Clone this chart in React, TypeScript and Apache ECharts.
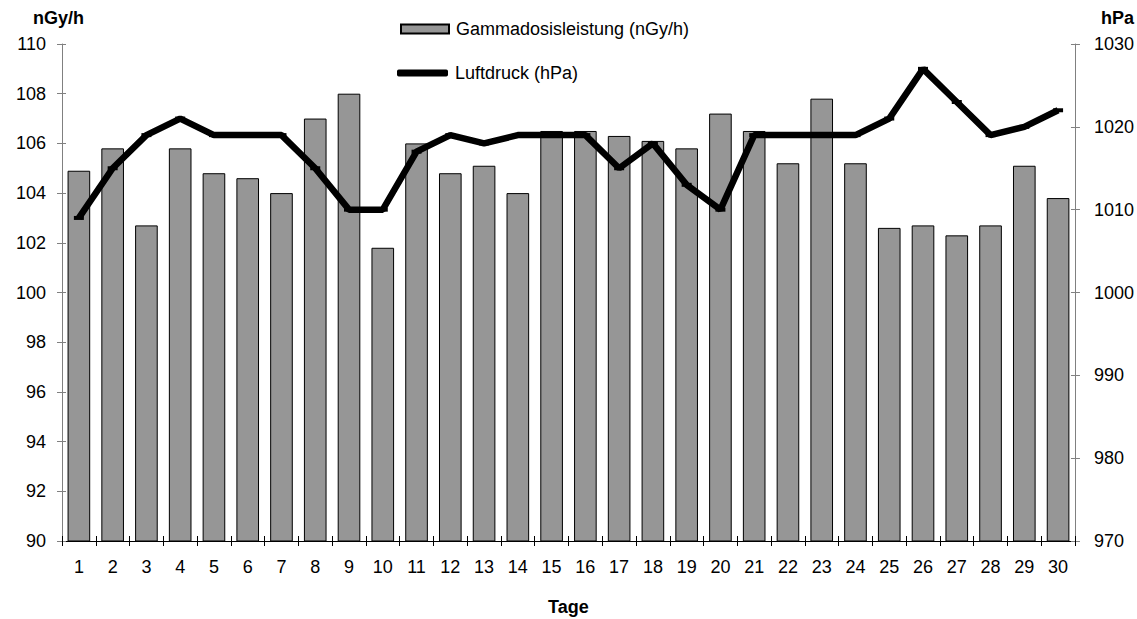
import React, { useEffect, useRef } from "react";
import * as echarts from "echarts";

const days = Array.from({ length: 30 }, (_, i) => String(i + 1));
const gammaValues = [
  104.9, 105.8, 102.7, 105.8, 104.8, 104.6, 104.0, 107.0, 108.0, 101.8,
  106.0, 104.8, 105.1, 104.0, 106.5, 106.5, 106.3, 106.1, 105.8, 107.2,
  106.5, 105.2, 107.8, 105.2, 102.6, 102.7, 102.3, 102.7, 105.1, 103.8,
];
const pressureValues = [
  1009, 1015, 1019, 1021, 1019, 1019, 1019, 1015, 1010, 1010,
  1017, 1019, 1018, 1019, 1019, 1019, 1015, 1018, 1013, 1010,
  1019, 1019, 1019, 1019, 1021, 1027, 1023, 1019, 1020, 1022,
];
const gammaName = "Gammadosisleistung (nGy/h)";
const pressureName = "Luftdruck (hPa)";
const leftAxisTitle = "nGy/h";
const rightAxisTitle = "hPa";
const xAxisTitle = "Tage";

const FONT = "'Liberation Sans', Arial, sans-serif";

export default function App() {
  const ref = useRef<HTMLDivElement>(null);
  useEffect(() => {
    if (!ref.current) return;
    const chart = echarts.init(ref.current, null, { renderer: "svg" });
    const tickLabel = { fontSize: 18, color: "#000", fontFamily: FONT };
    chart.setOption({
      animation: false,
      backgroundColor: "#ffffff",
      textStyle: { fontFamily: FONT },
      grid: { left: 62, right: 62, top: 44, bottom: 78, containLabel: false },
      legend: [
        {
          data: [{ name: gammaName, icon: "rect" }],
          left: 395,
          top: 15,
          itemWidth: 48,
          itemHeight: 9,
          textStyle: { ...tickLabel, padding: [0, 0, 0, 2] },
          selectedMode: false,
        },
        {
          data: [
            {
              name: pressureName,
              icon: "roundRect",
              itemStyle: { color: "#000", borderWidth: 0 },
            },
          ],
          left: 392,
          top: 59,
          itemWidth: 51,
          itemHeight: 7,
          textStyle: { ...tickLabel, padding: [0, 0, 0, 2] },
          selectedMode: false,
        },
      ],
      xAxis: [
        {
          type: "category",
          data: days,
          boundaryGap: true,
          axisLine: { lineStyle: { color: "#000", width: 1 } },
          axisTick: { show: true, length: 5, lineStyle: { color: "#000" } },
          axisLabel: { ...tickLabel, margin: 17 },
        },
        {
          type: "category",
          data: days,
          position: "bottom",
          boundaryGap: true,
          axisLine: { show: false },
          axisTick: { show: true, inside: true, length: 5, lineStyle: { color: "#000" } },
          axisLabel: { show: false },
        },
      ],
      yAxis: [
        {
          type: "value",
          min: 90,
          max: 110,
          interval: 2,
          axisLine: { show: true, lineStyle: { color: "#808080" } },
          axisTick: { show: true, length: 5, lineStyle: { color: "#808080" } },
          axisLabel: { ...tickLabel, margin: 16 },
          splitLine: { show: false },
        },
        {
          type: "value",
          min: 970,
          max: 1030,
          interval: 10,
          position: "right",
          axisLine: { show: true, lineStyle: { color: "#808080" } },
          axisTick: { show: true, length: 5, lineStyle: { color: "#808080" } },
          axisLabel: { ...tickLabel, margin: 19, formatter: (v: number) => String(v) },
          splitLine: { show: false },
        },
        {
          type: "value",
          min: 90,
          max: 110,
          interval: 2,
          position: "left",
          axisLine: { show: false },
          axisTick: { show: true, inside: true, length: 4, lineStyle: { color: "#808080" } },
          axisLabel: { show: false },
          splitLine: { show: false },
        },
        {
          type: "value",
          min: 970,
          max: 1030,
          interval: 10,
          position: "right",
          axisLine: { show: false },
          axisTick: { show: true, inside: true, length: 4, lineStyle: { color: "#808080" } },
          axisLabel: { show: false },
          splitLine: { show: false },
        },
      ],
      series: [
        {
          name: gammaName,
          type: "bar",
          data: gammaValues,
          yAxisIndex: 0,
          barCategoryGap: "33%",
          itemStyle: { color: "#969696", borderColor: "#000", borderWidth: 1 },
        },
        {
          name: pressureName,
          type: "line",
          data: pressureValues,
          yAxisIndex: 1,
          lineStyle: { color: "#000", width: 6.5 },
          itemStyle: { color: "#000" },
          symbol: "rect",
          symbolSize: [10, 4],
          showSymbol: true,
        },
      ],
      graphic: [
        {
          type: "text",
          left: 33,
          top: 9,
          style: { text: leftAxisTitle, font: `bold 18px ${FONT}`, fill: "#000" },
        },
        {
          type: "text",
          left: 1101,
          top: 9,
          style: { text: rightAxisTitle, font: `bold 18px ${FONT}`, fill: "#000" },
        },
        {
          type: "text",
          left: 548,
          top: 598,
          style: { text: xAxisTitle, font: `bold 18px ${FONT}`, fill: "#000" },
        },
      ],
    });
    return () => chart.dispose();
  }, []);
  return (
    <div
      ref={ref}
      style={{ position: "absolute", left: 0, top: 0, width: 1137, height: 619 }}
    />
  );
}
